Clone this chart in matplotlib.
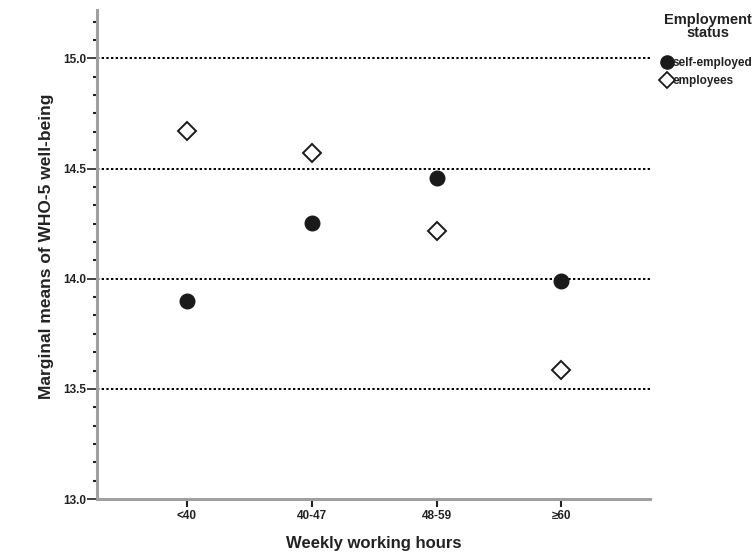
import matplotlib
matplotlib.use("Agg")
import matplotlib.pyplot as plt
from matplotlib.ticker import MultipleLocator
from matplotlib.lines import Line2D

categories = ["<40", "40-47", "48-59", "≥60"]
self_employed = [13.90, 14.255, 14.455, 13.99]
employees = [14.67, 14.57, 14.215, 13.585]
y_ticks = [13.0, 13.5, 14.0, 14.5, 15.0]
grid_levels = [13.5, 14.0, 14.5, 15.0]

plt.rcParams['font.family'] = ['Liberation Sans', 'DejaVu Sans']

fig = plt.figure(figsize=(7.55, 5.53), dpi=100)
ax = fig.add_axes([0.1285, 0.0976, 0.861 - 0.1285, 0.982 - 0.0976])

x = list(range(1, len(categories) + 1))
for g in grid_levels:
    ax.axhline(g, color='black', linestyle=(0, (1.2, 1.2)), linewidth=1.4, zorder=1)

ax.plot(x, self_employed, linestyle='none', marker='o', markersize=10.5,
        color='#1a1a1a', zorder=3)
ax.plot(x, employees, linestyle='none', marker='D', markersize=9,
        markerfacecolor='white', markeredgecolor='#1a1a1a', markeredgewidth=1.4, zorder=3)

ax.set_xlim(0.28, 4.71)
ax.set_ylim(13.0, 15.22)
ax.set_xticks(x)
ax.set_xticklabels(categories, fontsize=8.5, fontweight='bold', color='#222222')
ax.set_yticks(y_ticks)
ax.set_yticklabels([f"{v:.1f}" for v in y_ticks], fontsize=8.5, fontweight='bold', color='#222222')
ax.yaxis.set_minor_locator(MultipleLocator(0.5 / 6))

for side in ['top', 'right']:
    ax.spines[side].set_visible(False)
for side in ['left', 'bottom']:
    ax.spines[side].set_color('#a0a0a0')
    ax.spines[side].set_linewidth(2.2)

ax.tick_params(axis='y', which='major', direction='out', length=7, width=1.2, color='#222222', pad=1)
ax.tick_params(axis='y', which='minor', direction='out', length=3, width=1.5, color='#222222')
ax.tick_params(axis='x', which='major', direction='out', length=6, width=1.5, color='#222222', pad=2)

ax.set_xlabel("Weekly working hours", fontsize=12, fontweight='bold', color='#222222', labelpad=10)
ax.set_ylabel("Marginal means of WHO-5 well-being", fontsize=12.5, fontweight='bold', color='#222222', labelpad=6)
ax.yaxis.label.set_y(0.516)

fig.text(0.938, 0.977, "Employment\nstatus", ha='center', va='top', fontsize=10.5,
         fontweight='bold', color='#222222', linespacing=0.9)

handles = [
    Line2D([], [], linestyle='none', marker='o', markersize=9.5, color='#1a1a1a'),
    Line2D([], [], linestyle='none', marker='D', markersize=8, markerfacecolor='white',
           markeredgecolor='#1a1a1a', markeredgewidth=1.3),
]
leg = fig.legend(handles, ["self-employed", "employees"],
                 loc='upper left', bbox_to_anchor=(0.8755, 0.897), frameon=False,
                 prop={'size': 8.5, 'weight': 'bold'}, handletextpad=0.0, handlelength=1.0,
                 labelspacing=0.5, borderpad=0.0, borderaxespad=0.0)
for t in leg.get_texts():
    t.set_color('#222222')

fig.savefig("out.png", dpi=100)
